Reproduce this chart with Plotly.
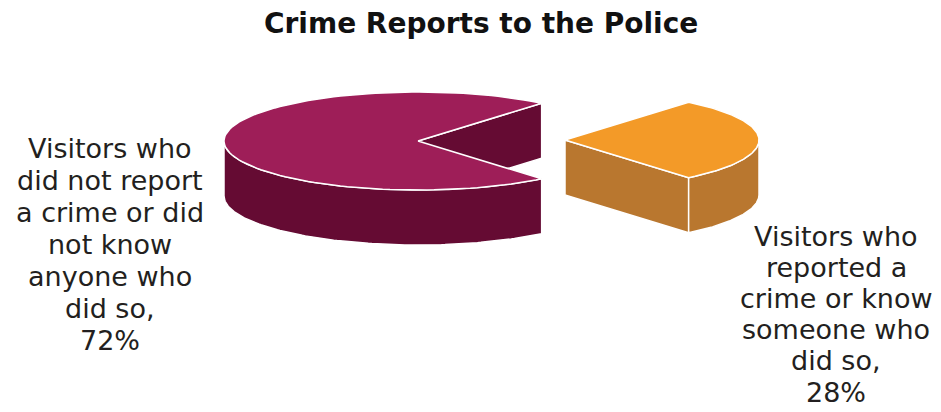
import numpy as np
import plotly.graph_objects as go

# ---- data ----
labels = ["Visitors who<br>did not report<br>a crime or did<br>not know<br>anyone who<br>did so,",
          "Visitors who<br>reported a<br>crime or know<br>someone who<br>did so,"]
values = [72, 28]
title = "Crime Reports to the Police"

# ---- geometry (pixel space) ----
W, H = 941, 412
RX, RY, DEPTH = 194, 49, 55
C_MAIN = (418, 141)
C_PULL = (565, 140)
TOP = ["#9E1E58", "#F39A28"]
SIDE = ["#650B33", "#B9772F"]

total = sum(values)
half = values[1] / total * 360 / 2  # reported slice centred at 0 deg


def pt(c, t, dz=0.0):
    r = np.radians(t)
    return c[0] + RX * np.cos(r), c[1] + RY * np.sin(r) + dz


def arc(c, t0, t1, dz=0.0, n=120):
    ts = np.linspace(t0, t1, n)
    xs, ys = zip(*[pt(c, t, dz) for t in ts])
    return list(xs), list(ys)


def poly(xs, ys, fill):
    return go.Scatter(x=xs + [xs[0]], y=ys + [ys[0]], mode="lines", fill="toself",
                      fillcolor=fill, line=dict(color="white", width=1.5),
                      hoverinfo="skip", showlegend=False)


traces = []
# main slice (not reported)
c = C_MAIN
t_up = 360 - half
px, py = pt(c, t_up)
traces.append(poly([c[0], px, px, c[0]], [c[1], py, py + DEPTH, c[1] + DEPTH], SIDE[0]))
ax, ay = arc(c, half, 180)
bx, by = arc(c, half, 180, DEPTH)
traces.append(poly(ax + bx[::-1], ay + by[::-1], SIDE[0]))
ax, ay = arc(c, half, 360 - half)
traces.append(poly([c[0]] + ax, [c[1]] + ay, TOP[0]))

# pulled slice (reported)
c = C_PULL
px, py = pt(c, half)
traces.append(poly([c[0], px, px, c[0]], [c[1], py, py + DEPTH, c[1] + DEPTH], SIDE[1]))
ax, ay = arc(c, 0, half)
bx, by = arc(c, 0, half, DEPTH)
traces.append(poly(ax + bx[::-1], ay + by[::-1], SIDE[1]))
ax, ay = arc(c, -half, half)
traces.append(poly([c[0]] + ax, [c[1]] + ay, TOP[1]))

fig = go.Figure(traces)

FONT = "DejaVu Sans"
label_pos = [(110, 148, 32), (836, 236, 31.2)]
for lab, val, (x0, y0, step) in zip(labels, values, label_pos):
    lines = lab.split("<br>") + [f"{val}%"]
    for i, ln in enumerate(lines):
        fig.add_annotation(x=x0, y=y0 + i * step, xref="x", yref="y", showarrow=False,
                           text=ln, align="center",
                           font=dict(family=FONT, size=27, color="#231F20"))

fig.add_annotation(x=481, y=23, xref="x", yref="y", showarrow=False,
                   text=f"<b>{title}</b>",
                   font=dict(family=FONT, size=28, color="#111111"))

fig.update_layout(
    width=W, height=H, margin=dict(l=0, r=0, t=0, b=0),
    paper_bgcolor="white", plot_bgcolor="white",
    xaxis=dict(range=[0, W], visible=False, fixedrange=True),
    yaxis=dict(range=[H, 0], visible=False, fixedrange=True),
)
fig.write_html("out.html", config={"displayModeBar": False})
